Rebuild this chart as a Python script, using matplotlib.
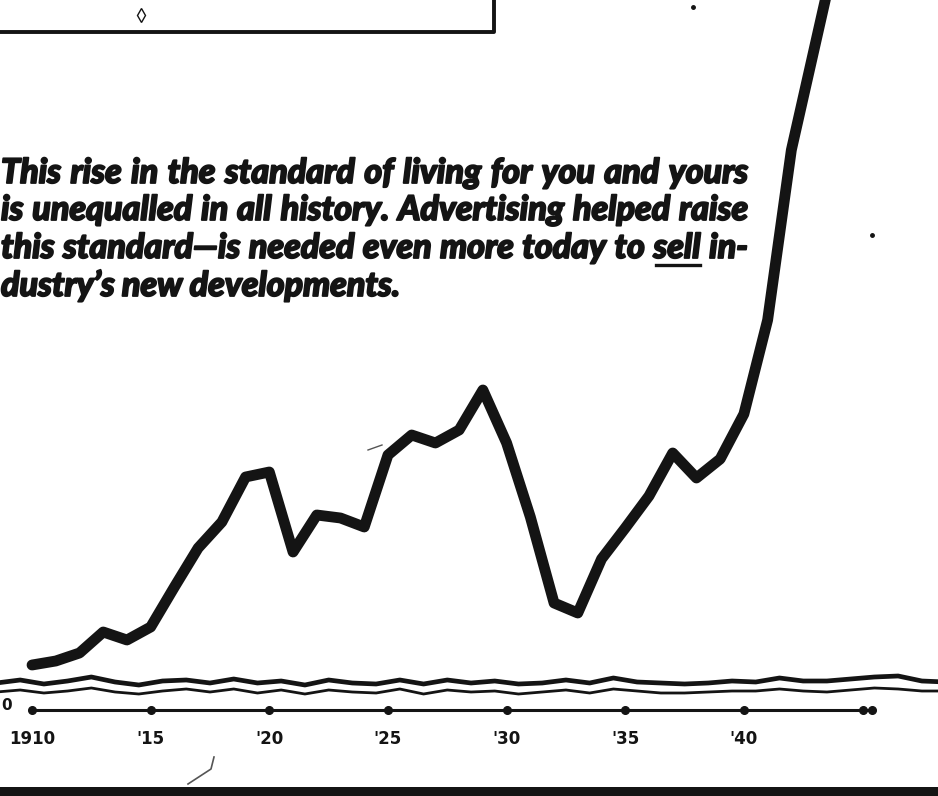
import numpy as np
import matplotlib.pyplot as plt
import matplotlib.patheffects as pe

# index level of living standard (1 unit = 10 px above the base line)
years = [1910, 1911, 1912, 1913, 1914, 1915, 1916, 1917, 1918, 1919,
         1920, 1921, 1922, 1923, 1924, 1925, 1926, 1927, 1928, 1929,
         1930, 1931, 1932, 1933, 1934, 1935, 1936, 1937, 1938, 1939,
         1940, 1941, 1942, 1943, 1944]
level = [4.5, 4.9, 5.7, 7.8, 7.0, 8.3, 12.3, 16.2, 18.8, 23.3,
         23.8, 15.8, 19.5, 19.2, 18.3, 25.5, 27.5, 26.7, 28.0, 32.0,
         26.7, 19.3, 10.7, 9.7, 15.1, 18.2, 21.4, 25.7, 23.2, 25.1,
         29.6, 39.0, 56.0, 66.5, 77.0]

tick_years = [1910, 1915, 1920, 1925, 1930, 1935, 1940]
tick_labels = ['1910', "'15", "'20", "'25", "'30", "'35", "'40"]
axis_dots = [1910, 1915, 1920, 1925, 1930, 1935, 1940, 1945, 1945.4]

# the wavy "axis break" strokes
break_upper = [2.7, 3.0, 2.6, 2.9, 3.3, 2.8, 2.5, 2.9, 3.0, 2.7, 3.1, 2.7, 2.9, 2.5,
               3.0, 2.7, 2.6, 3.0, 2.6, 3.0, 2.7, 2.9, 2.6, 2.7, 3.0, 2.7, 3.2, 2.8,
               2.7, 2.6, 2.7, 2.9, 2.8, 3.2, 2.9, 2.9, 3.1, 3.3, 3.4, 2.9, 2.8]
break_lower = [1.8, 2.0, 1.7, 1.9, 2.2, 1.8, 1.6, 1.9, 2.1, 1.8, 2.1, 1.7, 2.0, 1.6,
               2.0, 1.8, 1.7, 2.1, 1.6, 2.0, 1.8, 1.9, 1.6, 1.8, 2.0, 1.7, 2.1, 1.9,
               1.7, 1.7, 1.8, 1.9, 1.9, 2.1, 1.9, 1.8, 2.0, 2.2, 2.1, 1.9, 1.9]
break_years = np.arange(1908.5, 1949.5, 1.0)

caption = ["This rise in the standard of living for you and yours",
           "is unequalled in all history. Advertising helped raise",
           "this standard\u2014is needed even more today to sell in-",
           "dustry\u2019s new developments."]

ink = '#141414'

fig = plt.figure(figsize=(9.38, 7.96), dpi=100)
ax = fig.add_axes([0, 0, 1, 1])
ax.set_xlim(1908.65, 1948.18)
ax.set_ylim(-8.6, 71.0)
ax.axis('off')

ax.plot(years, level, color=ink, lw=7.8, solid_joinstyle='round',
        solid_capstyle='round', zorder=5)
ax.plot(break_years, break_upper, color=ink, lw=3.4, zorder=3)
ax.plot(break_years, break_lower, color=ink, lw=2.0, zorder=3)
ax.plot([1910, 1945.4], [0, 0], color=ink, lw=2.2)
ax.plot(axis_dots, [0] * len(axis_dots), 'o', color=ink, ms=5.5)

for yr, lab in zip(tick_years, tick_labels):
    ax.text(yr, -2.9, lab, ha='center', va='center', fontsize=12,
            fontweight='heavy', color=ink)

# overlay in pixel units for the print decorations and caption
deco = fig.add_axes([0, 0, 1, 1])
deco.set_xlim(0, 938)
deco.set_ylim(796, 0)
deco.axis('off')
deco.patch.set_alpha(0)

deco.text(1, 705, '0', ha='left', va='center', fontsize=11,
          fontweight='heavy', color=ink)

# box from the panel above
deco.plot([0, 494, 494], [32, 32, 0], color=ink, lw=2.8)
deco.plot([141], [15], marker='d', ms=7, mfc='none', mec=ink, mew=1)
deco.plot([693, 872], [7, 235], 'o', color=ink, ms=2.5)
deco.plot([368, 382], [450, 445], color='#555555', lw=1)
deco.plot([188, 211, 214], [784, 769, 757], color='#555555', lw=1.2)
deco.fill_between([0, 938], 787, 796, color=ink, lw=0)

font = dict(family=['Lato', 'DejaVu Sans'], weight='black', style='italic',
            color=ink)
heavy = [pe.withStroke(linewidth=1.3, foreground=ink)]
renderer = fig.canvas.get_renderer()


def text_width(s, size):
    t = deco.text(0, 0, s, fontsize=size, **font)
    w = t.get_window_extent(renderer).width
    t.remove()
    return w


trial = 18
widest = max(text_width(s, trial) for s in caption[:3])
size = trial * 738 / widest
space = text_width('x x', size) - 2 * text_width('x', size)

baselines = [183, 220, 258, 296]
for i, line in enumerate(caption):
    words = line.split(' ')
    widths = [text_width(w, size) for w in words]
    if i < 3:
        gap = (747 - sum(widths)) / (len(words) - 1)
    else:
        gap = space
    x = 1
    for w, wd in zip(words, widths):
        deco.text(x, baselines[i], w, fontsize=size, va='baseline',
                  path_effects=heavy, **font)
        if w == 'sell':
            deco.plot([x + 3, x + wd - 1], [baselines[i] + 7] * 2, color=ink, lw=2.4)
        x += wd + gap

fig.savefig('out.png', dpi=100, facecolor='white')
